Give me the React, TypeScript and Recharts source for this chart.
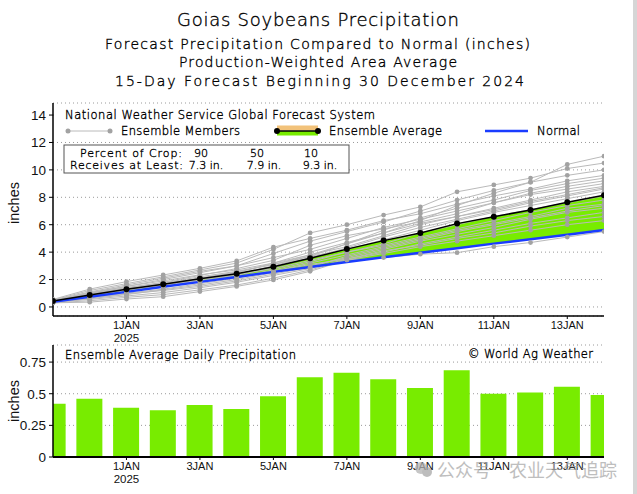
import { ComposedChart, BarChart, Bar, Line, Area, XAxis, YAxis, CartesianGrid } from 'recharts'

// day 0 = 30 Dec 2024 ... day 15 = 14 Jan 2025
const days = [0, 1, 2, 3, 4, 5, 6, 7, 8, 9, 10, 11, 12, 13, 14, 15]
const tickDays = [2, 4, 6, 8, 10, 12, 14]
const tickLabels = ['1JAN', '3JAN', '5JAN', '7JAN', '9JAN', '11JAN', '13JAN']
const tickYears = ['2025', '', '', '', '', '', '']

const cumTicks = [0, 2, 4, 6, 8, 10, 12, 14]
const dailyTicks = [0, 0.25, 0.5, 0.75]

// accumulated precipitation (inches)
const ensembleAverage = [0.43, 0.88, 1.29, 1.66, 2.05, 2.43, 2.93, 3.55, 4.22, 4.84, 5.4, 6.08, 6.58, 7.08, 7.64, 8.15]
const normal = [0.37, 0.74, 1.1, 1.47, 1.83, 2.19, 2.56, 2.92, 3.28, 3.62, 3.96, 4.29, 4.62, 4.94, 5.27, 5.62]

const members = [
  [0.45, 0.95, 1.35, 1.7, 2.1, 2.55, 3.1, 3.8, 4.6, 5.4, 6.3, 7.4, 8.3, 9.1, 10.4, 11.0],
  [0.5, 1.2, 1.7, 2.2, 2.7, 3.2, 4.2, 5.4, 6.0, 6.7, 7.3, 8.4, 8.9, 9.4, 10.1, 10.5],
  [0.4, 1.0, 1.5, 2.0, 2.5, 3.0, 3.9, 4.8, 5.5, 6.2, 7.0, 7.8, 8.5, 9.1, 9.6, 10.0],
  [0.55, 1.3, 1.85, 2.33, 2.82, 3.36, 4.36, 5.0, 5.6, 6.3, 6.8, 7.5, 8.1, 8.6, 9.2, 9.6],
  [0.35, 0.7, 1.1, 1.5, 2.0, 2.4, 3.0, 3.7, 4.6, 5.6, 6.5, 7.2, 7.8, 8.5, 9.0, 9.4],
  [0.45, 1.1, 1.6, 2.1, 2.6, 3.0, 3.6, 4.2, 5.0, 5.8, 6.4, 7.0, 7.6, 8.3, 8.8, 9.2],
  [0.4, 0.9, 1.4, 1.8, 2.3, 2.8, 3.4, 4.5, 5.2, 5.7, 6.2, 6.8, 7.6, 8.2, 8.6, 9.0],
  [0.42, 0.85, 1.25, 1.65, 2.1, 2.5, 3.2, 4.0, 4.7, 5.4, 6.1, 6.6, 7.2, 7.8, 8.4, 8.8],
  [0.38, 0.8, 1.2, 1.6, 1.9, 2.3, 2.9, 3.6, 4.3, 5.1, 5.8, 6.4, 7.0, 7.6, 8.1, 8.6],
  [0.48, 1.0, 1.4, 1.75, 2.2, 2.6, 3.1, 3.7, 4.2, 4.9, 5.6, 6.3, 6.9, 7.4, 7.9, 8.4],
  [0.36, 0.75, 1.1, 1.45, 1.85, 2.2, 2.7, 3.3, 4.0, 4.6, 5.4, 6.0, 6.6, 7.1, 7.6, 8.1],
  [0.44, 0.9, 1.3, 1.6, 2.0, 2.35, 2.8, 3.4, 4.0, 4.5, 5.1, 5.7, 6.3, 6.9, 7.4, 7.8],
  [0.4, 0.7, 1.0, 1.3, 1.7, 2.1, 2.6, 3.2, 3.8, 4.4, 5.0, 5.6, 6.1, 6.6, 7.2, 7.5],
  [0.32, 0.6, 0.9, 1.25, 1.6, 2.0, 2.5, 3.0, 3.6, 4.2, 4.8, 5.3, 5.8, 6.4, 6.9, 7.2],
  [0.46, 0.95, 1.3, 1.55, 1.9, 2.2, 2.6, 3.1, 3.5, 4.0, 4.6, 5.1, 5.6, 6.1, 6.5, 6.9],
  [0.34, 0.55, 0.8, 1.05, 1.4, 1.8, 2.3, 2.8, 3.5, 4.1, 4.5, 5.0, 5.4, 5.9, 6.3, 6.6],
  [0.3, 0.45, 0.7, 0.9, 1.25, 1.6, 2.1, 2.7, 3.43, 3.9, 4.4, 4.8, 5.2, 5.6, 6.0, 6.3],
  [0.3, 0.35, 0.58, 0.75, 1.12, 1.5, 1.97, 2.6, 3.43, 3.6, 3.85, 3.96, 4.4, 4.7, 5.1, 5.5],
  [0.42, 0.65, 0.95, 1.2, 1.5, 1.9, 2.4, 2.9, 3.7, 4.3, 4.9, 5.5, 6.0, 6.5, 7.0, 7.4],
  [0.5, 1.05, 1.5, 1.9, 2.35, 2.7, 3.2, 3.8, 4.4, 5.2, 6.0, 6.6, 7.1, 7.7, 8.2, 8.7],
]

// ensemble average daily precipitation (inches)
const dailyPrecip = [0.42, 0.46, 0.39, 0.37, 0.41, 0.38, 0.48, 0.63, 0.665, 0.615, 0.545, 0.685, 0.5, 0.51, 0.555, 0.49]

const cropPercents = [90, 50, 10]
const cropAmounts = [7.3, 7.9, 9.3]

const titleLines = [
  'Goias Soybeans Precipitation',
  'Forecast Precipitation Compared to Normal (inches)',
  'Production-Weighted Area Average',
  '15-Day Forecast Beginning 30 December 2024',
]

const colors = {
  green: '#78ec00',
  orange: '#f2c27a',
  member: '#bababa',
  memberDot: '#a2a2a2',
  normal: '#1a3cff',
  grid: '#9a9a9a',
  text: '#111',
}

const cumData = days.map((d, i) => {
  const row: Record<string, any> = {
    day: d,
    avg: ensembleAverage[i],
    normal: normal[i],
    band: [normal[i], ensembleAverage[i]],
  }
  members.forEach((m, k) => {
    row['m' + k] = m[i]
  })
  return row
})

const dailyData = days.map((d, i) => ({ day: d, daily: dailyPrecip[i] }))

const axisLine = { stroke: '#000', strokeWidth: 1.5 }
const yTick = { fill: colors.text, fontSize: 13.5 }
const hershey = '"DejaVu Sans", sans-serif'

function DateTick({ x, y, payload }: any) {
  const i = tickDays.indexOf(payload.value)
  return (
    <g>
      <text x={x} y={y + 8} textAnchor="middle" fontSize={11} fill={colors.text}>
        {tickLabels[i]}
      </text>
      {tickYears[i] && (
        <text x={x} y={y + 21} textAnchor="middle" fontSize={11.5} fill={colors.text}>
          {tickYears[i]}
        </text>
      )}
    </g>
  )
}

function CumulativeChart() {
  return (
    <ComposedChart width={637} height={350} data={cumData} margin={{ top: 103, right: 33, bottom: 4, left: 0 }}>
      <CartesianGrid vertical={false} stroke={colors.grid} strokeDasharray="1 3" />
      <XAxis
        dataKey="day"
        type="number"
        domain={[0, 15]}
        ticks={tickDays}
        interval={0}
        allowDataOverflow
        height={30}
        axisLine={axisLine}
        tickLine={{ stroke: '#000' }}
        tickSize={3}
        tickMargin={2}
        tick={<DateTick />}
      />
      <XAxis xAxisId="top" orientation="top" type="number" domain={[0, 15]} height={0} tick={false} tickLine={false} axisLine={axisLine} />
      <YAxis
        type="number"
        domain={[-0.66, 14.88]}
        ticks={cumTicks}
        allowDataOverflow
        width={53}
        axisLine={axisLine}
        tickLine={{ stroke: '#000' }}
        tickSize={4}
        tickMargin={3}
        tick={yTick}
      />
      <YAxis yAxisId="right" orientation="right" width={0} tick={false} tickLine={false} axisLine={axisLine} domain={[0, 1]} />
      <Area dataKey="band" type="linear" fill={colors.green} fillOpacity={1} stroke="none" isAnimationActive={false} />
      {members.map((_, k) => (
        <Line
          key={k}
          dataKey={'m' + k}
          type="linear"
          stroke={colors.member}
          strokeWidth={1}
          dot={{ r: 2.4, fill: colors.memberDot, stroke: 'none' }}
          activeDot={false}
          isAnimationActive={false}
        />
      ))}
      <Line dataKey="normal" type="linear" stroke={colors.normal} strokeWidth={2.5} dot={false} activeDot={false} isAnimationActive={false} />
      <Line
        dataKey="avg"
        type="linear"
        stroke="#000"
        strokeWidth={1.5}
        dot={{ r: 3, fill: '#000', stroke: 'none' }}
        activeDot={false}
        isAnimationActive={false}
      />
    </ComposedChart>
  )
}

function DailyChart() {
  return (
    <BarChart width={637} height={159} data={dailyData} margin={{ top: 10, right: 33, bottom: 7, left: 0 }}>
      <CartesianGrid vertical={false} stroke={colors.grid} strokeDasharray="1 3" />
      <XAxis
        dataKey="day"
        type="number"
        domain={[0, 15]}
        ticks={tickDays}
        interval={0}
        allowDataOverflow
        height={30}
        axisLine={{ stroke: '#000', strokeWidth: 2 }}
        tickLine={{ stroke: '#000' }}
        tickSize={3}
        tickMargin={2}
        tick={<DateTick />}
      />
      <XAxis xAxisId="top" orientation="top" type="number" domain={[0, 15]} height={0} tick={false} tickLine={false} axisLine={axisLine} />
      <YAxis
        type="number"
        domain={[0, 0.885]}
        ticks={dailyTicks}
        allowDataOverflow
        width={53}
        axisLine={axisLine}
        tickLine={{ stroke: '#000' }}
        tickSize={4}
        tickMargin={3}
        tick={yTick}
        tickFormatter={(v: number) => String(v)}
      />
      <YAxis yAxisId="right" orientation="right" width={0} tick={false} tickLine={false} axisLine={axisLine} domain={[0, 1]} />
      <Bar dataKey="daily" fill={colors.green} barSize={26} isAnimationActive={false} />
    </BarChart>
  )
}

function Overlay() {
  const thin = { fontFamily: hershey, fontWeight: 200, fill: '#000', stroke: '#000', strokeWidth: 0.35 }
  const t = { ...thin, lengthAdjust: 'spacing' as const }
  return (
    <svg width={637} height={494} style={{ position: 'absolute', left: 0, top: 0, pointerEvents: 'none' }}>
      {/* titles */}
      <text x={177} y={26} fontSize={18} textLength={282} {...t}>{titleLines[0]}</text>
      <text x={105} y={49} fontSize={14} textLength={425} {...t}>{titleLines[1]}</text>
      <text x={179} y={67} fontSize={14} textLength={278} {...t}>{titleLines[2]}</text>
      <text x={115} y={86} fontSize={14} textLength={409} {...t}>{titleLines[3]}</text>

      {/* legend */}
      <rect x={54} y={104} width={549} height={35} fill="#fff" />
      <text x={65} y={119} fontSize={11.5} textLength={310} {...t}>National Weather Service Global Forecast System</text>
      <line x1={68} y1={131} x2={110} y2={131} stroke={colors.member} strokeWidth={1} />
      <circle cx={68} cy={131} r={2.5} fill={colors.memberDot} />
      <circle cx={110} cy={131} r={2.5} fill={colors.memberDot} />
      <text x={121} y={135} fontSize={11.5} textLength={119} {...t}>Ensemble Members</text>
      <rect x={277} y={125.5} width={41} height={5} fill={colors.orange} />
      <rect x={277} y={131} width={41} height={4.5} fill={colors.green} />
      <line x1={277} y1={131} x2={318} y2={131} stroke="#000" strokeWidth={1.5} />
      <circle cx={277} cy={131} r={3} fill="#000" />
      <circle cx={318} cy={131} r={3} fill="#000" />
      <text x={329} y={135} fontSize={11.5} textLength={113} {...t}>Ensemble Average</text>
      <line x1={485} y1={131} x2={528} y2={131} stroke={colors.normal} strokeWidth={2.5} />
      <text x={537} y={135} fontSize={11.5} textLength={43} {...t}>Normal</text>

      {/* crop box */}
      <rect x={64} y={145} width={285} height={28} fill="#fff" stroke="#555" strokeWidth={1} />
      <text x={80} y={157} fontSize={11} textLength={102} {...t}>Percent of Crop:</text>
      <text x={70} y={168.5} fontSize={11} textLength={113} {...t}>Receives at Least:</text>
      {cropPercents.map((p, i) => (
        <text key={'p' + i} x={[201, 257, 311][i]} y={157} fontSize={11} textAnchor="middle" {...thin}>
          {p}
        </text>
      ))}
      {cropAmounts.map((a, i) => (
        <text key={'a' + i} x={[206, 264, 320][i]} y={168.5} fontSize={11} textAnchor="middle" {...thin}>
          {a.toFixed(1)} in.
        </text>
      ))}

      {/* axis titles */}
      <text transform="translate(19,203) rotate(-90)" textAnchor="middle" fontSize={14.5} fontFamily="Liberation Sans, Arial" fill={colors.text}>inches</text>
      <text transform="translate(19,401) rotate(-90)" textAnchor="middle" fontSize={14.5} fontFamily="Liberation Sans, Arial" fill={colors.text}>inches</text>

      {/* lower panel captions */}
      <text x={65} y={359} fontSize={11.5} textLength={231} {...t}>Ensemble Average Daily Precipitation</text>
      <text x={468} y={358} fontSize={11.5} textLength={125} {...t}>© World Ag Weather</text>

      {/* watermark */}
      <g opacity={0.75}>
        <circle cx={421} cy={468} r={6} fill="#b4b4b4" />
        <circle cx={427} cy={472} r={5} fill="#a8a8a8" />
        <text y={477} fontSize={18} fontFamily='"Noto Sans CJK SC", sans-serif' fill="#a9a9a9">
          <tspan x={437}>公众号</tspan>
          <tspan x={509}>农业天气追踪</tspan>
        </text>
      </g>

      {/* right frame */}
      <rect x={633} y={0} width={4} height={494} fill="#d6d6d6" />
    </svg>
  )
}

export default function App() {
  return (
    <div
      style={{
        position: 'absolute',
        left: 0,
        top: 0,
        width: 637,
        height: 494,
        background: '#fff',
        fontFamily: 'Liberation Sans, Arial, sans-serif',
        overflow: 'hidden',
      }}
    >
      <div style={{ position: 'absolute', left: 0, top: 0 }}>
        <CumulativeChart />
      </div>
      <div style={{ position: 'absolute', left: 0, top: 335 }}>
        <DailyChart />
      </div>
      <Overlay />
    </div>
  )
}
